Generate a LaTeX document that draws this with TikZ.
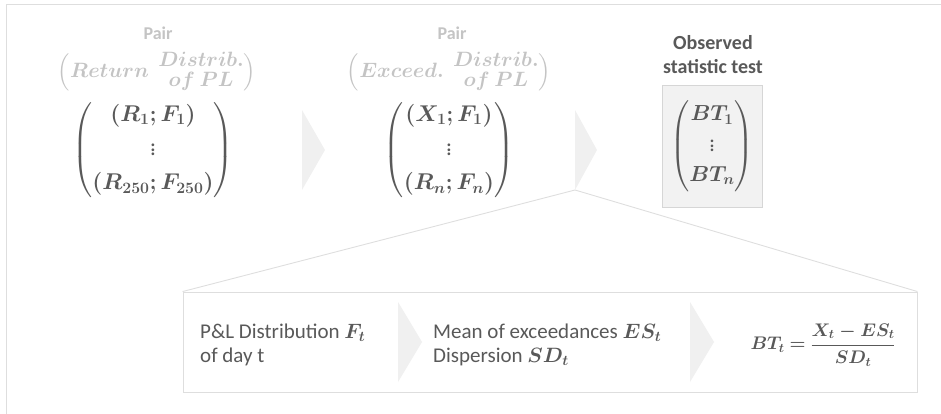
\documentclass[tikz,border=0pt]{standalone}
\usepackage{amsmath,bm}
\usepackage{fontspec}
\setmainfont{Carlito}
\definecolor{framegray}{HTML}{DEDEDE}
\definecolor{chevfill}{HTML}{F0F0F0}
\definecolor{lighttxt}{HTML}{C4C4C4}
\definecolor{darktxt}{HTML}{595959}
\definecolor{boxfill}{HTML}{F2F2F2}
\definecolor{boxline}{HTML}{D6D6D6}
\tikzset{
  chevron/.style={fill=chevfill, draw=none},
  frameline/.style={draw=framegray, line width=0.8pt},
  zoomline/.style={draw=framegray, line width=0.9pt},
  paircap/.style={text=lighttxt, font=\fontsize{18}{22}\selectfont\bfseries, inner sep=0pt},
  pairlbl/.style={text=lighttxt, font=\fontsize{20.74}{25}\selectfont, inner sep=0pt},
  matnode/.style={text=darktxt, font=\fontsize{20.74}{25}\selectfont, inner sep=0pt},
  bodytxt/.style={text=darktxt, font=\fontsize{21}{24}\selectfont, align=left, inner sep=0pt},
}
\begin{document}
\begin{tikzpicture}[x=1pt,y=-1pt]
\useasboundingbox (0,0) rectangle (941,414);
% frame
\draw[frameline] (6,414) -- (6,4.5) -- (941,4.5);

% column 1
\node[paircap] (pair1) at (158,33) {Pair};
\node[pairlbl] (lbl1) at (157,72) {$\Bigl(\bm{Return}\ \ \renewcommand\arraystretch{0.7}\begin{array}{@{}c@{}}\bm{Distrib.}\\ \bm{of\ PL}\end{array}\Bigr)$};
\node[matnode] (mat1) at (153,150) {\scalebox{1.1}{$\left(\begin{matrix}\bm{(R_1;F_1)}\\[6pt] \vdots \\[6pt] \bm{(R_{250};F_{250})}\end{matrix}\right)$}};

% column 2
\node[paircap] (pair2) at (452,33) {Pair};
\node[pairlbl] (lbl2) at (449,72) {$\Bigl(\bm{Exceed.}\ \ \renewcommand\arraystretch{0.7}\begin{array}{@{}c@{}}\bm{Distrib.}\\ \bm{of\ PL}\end{array}\Bigr)$};
\node[matnode] (mat2) at (449,150) {\scalebox{1.1}{$\left(\begin{matrix}\bm{(X_1;F_1)}\\[6pt] \vdots \\[6pt] \bm{(R_n;F_n)}\end{matrix}\right)$}};

% column 3
\node[text=darktxt, font=\fontsize{20}{24}\selectfont\bfseries, align=center, inner sep=0pt] (obs) at (713,55) {Observed\\statistic test};
\node[fill=boxfill, draw=boxline, line width=0.8pt, minimum width=100pt, minimum height=122pt, inner sep=0pt] (btbox) at (712,146) {};
\node[matnode] (mat3) at (btbox.center) {\scalebox{1.05}{$\left(\begin{matrix}\bm{BT_1}\\[4pt] \vdots \\[4pt] \bm{BT_n}\end{matrix}\right)$}};

% chevrons top
\fill[chevron] (302,110) -- (325,150) -- (302,190) -- cycle;
\coordinate (zv) at (575,190);
% detail box
\node[draw=framegray, line width=0.9pt, fill=white, minimum width=734pt, minimum height=100pt, inner sep=0pt] (detail) at (550,342) {};
\draw[zoomline] (zv) -- (detail.north west);
\draw[zoomline] (zv) -- (detail.north east);
\fill[chevron] (575,110) -- (597,150) -- (575,190) -- cycle;

% inner chevrons
\fill[chevron] (398,302) -- (422,342) -- (398,382) -- cycle;
\fill[chevron] (690,302) -- (714,342) -- (690,382) -- cycle;

\node[bodytxt, anchor=west] (txt1) at (200,345) {P\&L Distribution $\bm{F_t}$\\of day t};
\node[bodytxt, anchor=west] (txt2) at (433,345) {Mean of exceedances $\bm{ES_t}$\\Dispersion $\bm{SD_t}$};
\node[matnode] (form) at (823,345) {\scalebox{0.88}{$\bm{BT_t=\dfrac{X_t-ES_t}{SD_t}}$}};
\end{tikzpicture}
\end{document}
